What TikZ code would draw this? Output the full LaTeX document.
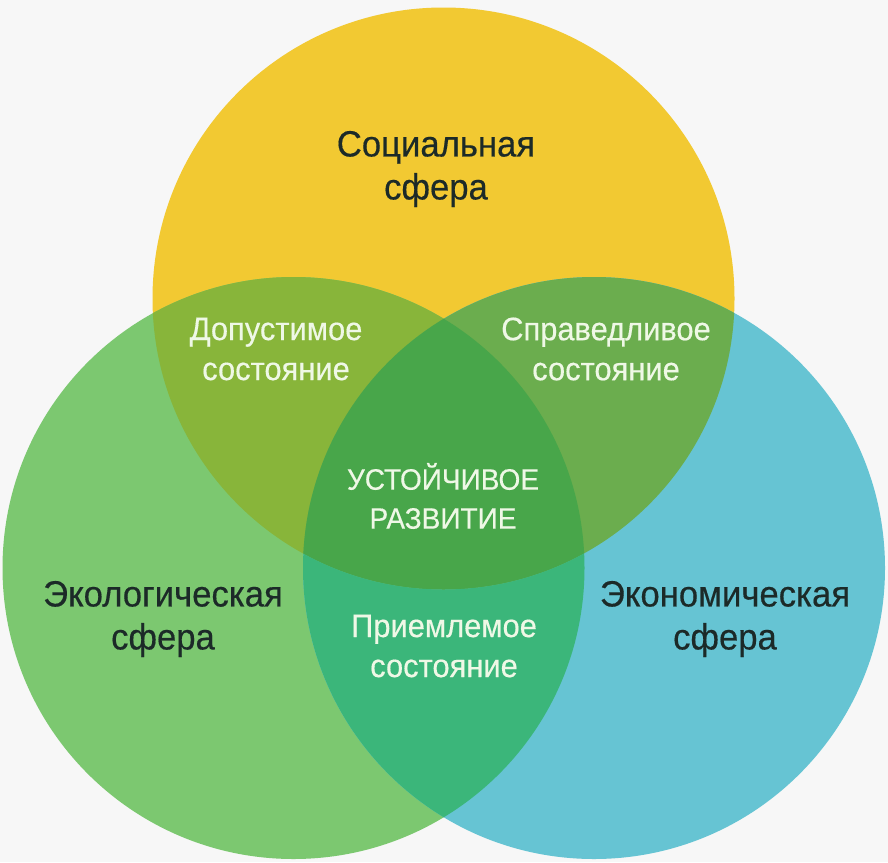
\documentclass[tikz,border=0pt]{standalone}
\usepackage{fontspec}
\setmainfont{Liberation Sans}[FakeStretch=0.95, FakeBold=0.4]
\definecolor{paper}{HTML}{F7F7F7}
\definecolor{social}{HTML}{F2C932}
\definecolor{ecol}{HTML}{7CC870}
\definecolor{econ}{HTML}{66C4D3}
\definecolor{socecol}{HTML}{88B53A}
\definecolor{socecon}{HTML}{6BAD4E}
\definecolor{ecolecon}{HTML}{3BB67A}
\definecolor{core}{HTML}{48A64A}
\definecolor{ink}{HTML}{1C2A28}
\definecolor{pale}{HTML}{EFF8E6}

\begin{document}
\begin{tikzpicture}[
  x=1pt, y=-1pt,
  sphere/.style={font=\fontsize{36.5}{43}\selectfont, text=ink, align=center, inner sep=0pt},
  state/.style={font=\fontsize{32.5}{40}\selectfont, text=pale, align=center, inner sep=0pt},
  goal/.style={state, font=\fontsize{29.5}{39}\selectfont}
]

\fill[paper] (0,0) rectangle (888,862);

\coordinate (socC) at (443.5,298.5);
\coordinate (ecolC) at (293.5,568);
\coordinate (econC) at (594,568);

\fill[social] (socC) circle[radius=291pt];
\fill[ecol] (ecolC) circle[radius=291pt];
\fill[econ] (econC) circle[radius=291pt];

\begin{scope}
  \clip (socC) circle[radius=291pt];
  \fill[socecol] (ecolC) circle[radius=291pt];
  \fill[socecon] (econC) circle[radius=291pt];
  \clip (ecolC) circle[radius=291pt];
  \fill[core] (econC) circle[radius=291pt];
\end{scope}
\begin{scope}[even odd rule]
  \clip (ecolC) circle[radius=291pt];
  \clip (econC) circle[radius=291pt];
  \fill[ecolecon] (socC) circle[radius=291pt] (0,0) rectangle (888,862);
\end{scope}

\node[sphere] (social) at (436,169) {Социальная\\сфера};
\node[sphere] (ecology) at (163,619) {Экологическая\\сфера};
\node[sphere] (economy) at (725,619) {Экономическая\\сфера};

\node[state] (admissible) at (276,349) {Допустимое\\состояние};
\node[state] (fair) at (606,349) {Справедливое\\состояние};
\node[state] (acceptable) at (444,646) {Приемлемое\\состояние};
\node[goal] (sustainable) at (443,496) {УСТОЙЧИВОЕ\\РАЗВИТИЕ};

\end{tikzpicture}
\end{document}
